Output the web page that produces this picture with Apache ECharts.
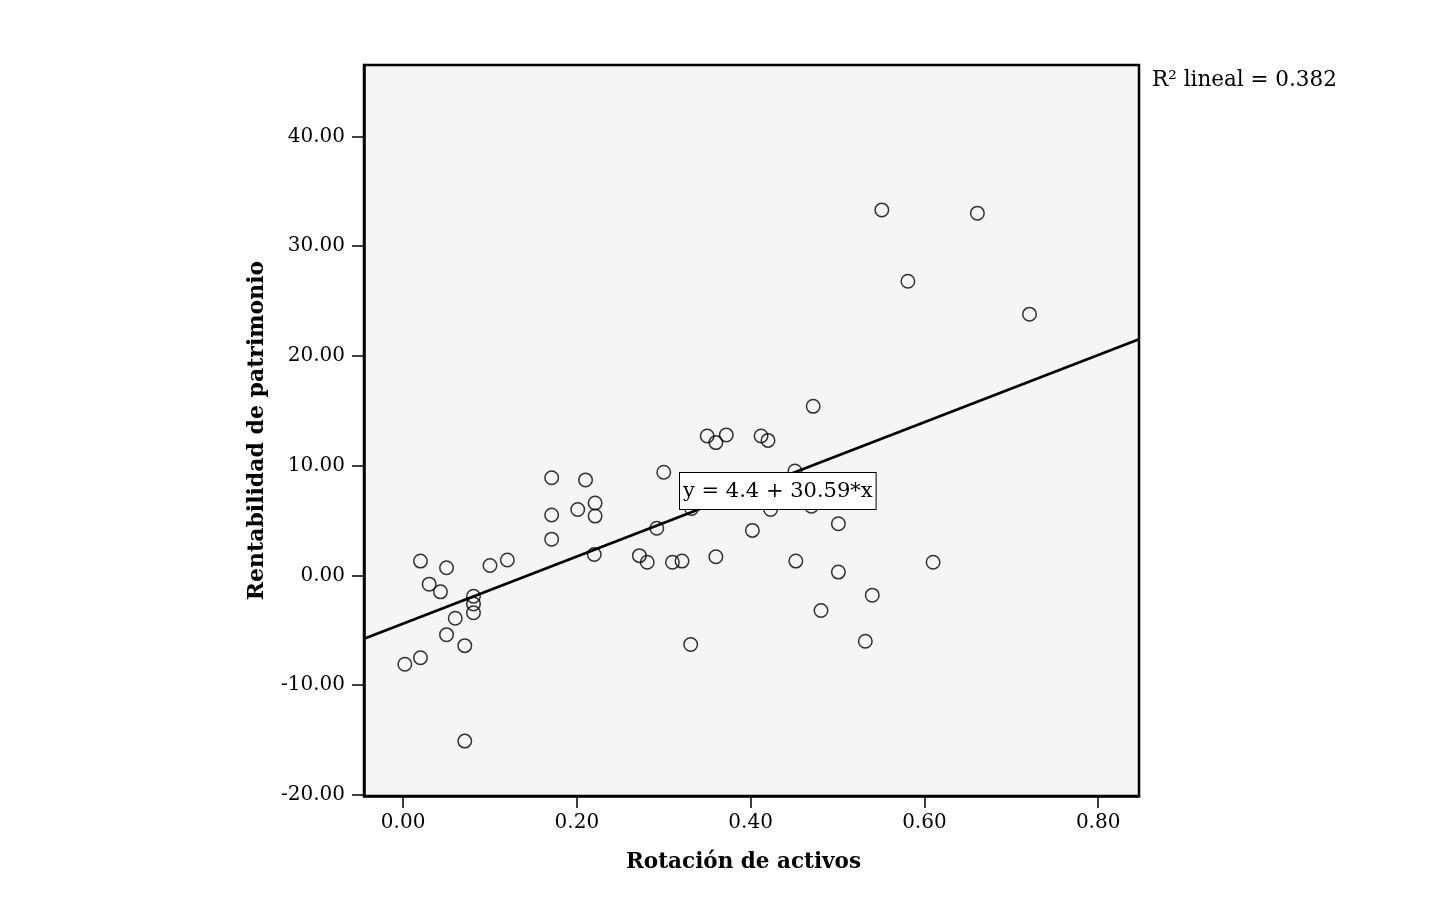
<!DOCTYPE html>
<html>
<head>
<meta charset="utf-8">
<script src="https://cdn.jsdelivr.net/npm/echarts@6/dist/echarts.min.js"></script>
<style>html,body{margin:0;padding:0;background:#fff;}#chart{width:1441px;height:904px;}</style>
</head>
<body>
<div id="chart"></div>
<script>
// Data
const rotacionActivos = [0.002,0.020,0.020,0.030,0.043,0.050,0.050,0.060,0.071,0.071,0.081,0.081,0.081,0.100,0.120,
  0.171,0.171,0.171,0.201,0.210,0.221,0.221,0.220,0.272,0.281,0.292,0.300,0.310,0.321,0.332,0.331,
  0.350,0.360,0.360,0.372,0.402,0.412,0.420,0.423,0.451,0.452,0.472,0.470,0.481,0.501,0.501,0.532,0.540,
  0.551,0.581,0.610,0.661,0.721];
const rentabilidadPatrimonio = [-8.1,-7.5,1.3,-0.8,-1.5,0.7,-5.4,-3.9,-6.4,-15.1,-1.9,-2.6,-3.4,0.9,1.4,
  8.9,5.5,3.3,6.0,8.7,6.6,5.4,1.9,1.8,1.2,4.3,9.4,1.2,1.3,6.1,-6.3,
  12.7,12.1,1.7,12.8,4.1,12.7,12.3,6.0,9.5,1.3,15.4,6.3,-3.2,4.7,0.3,-6.0,-1.8,
  33.3,26.8,1.2,33.0,23.8];
const xTicks = [0, 0.2, 0.4, 0.6, 0.8];
const yTicks = [-20, -10, 0, 10, 20, 30, 40];
const fitIntercept = -4.4;
const fitSlope = 30.59;
const equationText = 'y = 4.4 + 30.59*x';
const r2Text = 'R\u00B2 lineal = 0.382';
const xName = 'Rotación de activos';
const yName = 'Rentabilidad de patrimonio';

const X_MIN = -0.045, X_MAX = 0.847, Y_MIN = -20.1, Y_MAX = 46.5;
const points = rotacionActivos.map((x, i) => [x, rentabilidadPatrimonio[i]]);
const fitLine = [X_MIN, X_MAX].map(x => [x, fitIntercept + fitSlope * x]);

const FONT = 'DejaVu Serif';
const chart = echarts.init(document.getElementById('chart'), null, {renderer: 'canvas'});
chart.setOption({
  backgroundColor: '#ffffff',
  animation: false,
  grid: {left: 364, right: 302, top: 65, bottom: 108, show: true, backgroundColor: '#f5f5f5', borderColor: '#000', borderWidth: 2.5},
  xAxis: {
    type: 'value', min: X_MIN, max: X_MAX,
    name: xName, nameLocation: 'middle', nameGap: 55,
    nameTextStyle: {fontFamily: FONT, fontWeight: 'bold', fontSize: 21.5, color: '#000', padding: [0, 16, 0, 0]},
    axisLine: {show: true, onZero: false, lineStyle: {color: '#000', width: 2.5}},
    axisTick: {show: true, customValues: xTicks, length: 12, lineStyle: {color: '#000', width: 1.5}},
    axisLabel: {customValues: xTicks, margin: 17, fontFamily: FONT, fontSize: 20, color: '#000', formatter: v => v.toFixed(2)},
    splitLine: {show: false}
  },
  yAxis: {
    type: 'value', min: Y_MIN, max: Y_MAX,
    name: yName, nameLocation: 'middle', nameGap: 96, nameRotate: 90,
    nameTextStyle: {fontFamily: FONT, fontWeight: 'bold', fontSize: 22, color: '#000'},
    axisLine: {show: true, onZero: false, lineStyle: {color: '#000', width: 2.5}},
    axisTick: {show: true, customValues: yTicks, length: 12, lineStyle: {color: '#000', width: 1.5}},
    axisLabel: {customValues: yTicks, margin: 19, fontFamily: FONT, fontSize: 20, color: '#000', padding: [4, 0, 0, 0], formatter: v => v.toFixed(2)},
    splitLine: {show: false}
  },
  series: [
    {
      type: 'line', data: fitLine, symbol: 'none', silent: true, z: 3,
      lineStyle: {color: '#000', width: 2.8}
    },
    {
      type: 'scatter', data: points, symbol: 'circle', symbolSize: 13.5, z: 2,
      itemStyle: {color: 'rgba(0,0,0,0)', borderColor: '#000', borderWidth: 1.5}
    }
  ],
  graphic: [
    {
      type: 'text', left: 679, top: 472, z: 100,
      style: {text: equationText, font: '21px "DejaVu Serif"', fill: '#000',
        backgroundColor: '#fff', borderColor: '#000', borderWidth: 1, padding: [8, 3, 7, 3]}
    },
    {
      type: 'text', left: 1152, top: 69, z: 100,
      style: {text: r2Text, font: '21.5px "DejaVu Serif"', fill: '#000'}
    }
  ]
});
</script>
</body>
</html>
